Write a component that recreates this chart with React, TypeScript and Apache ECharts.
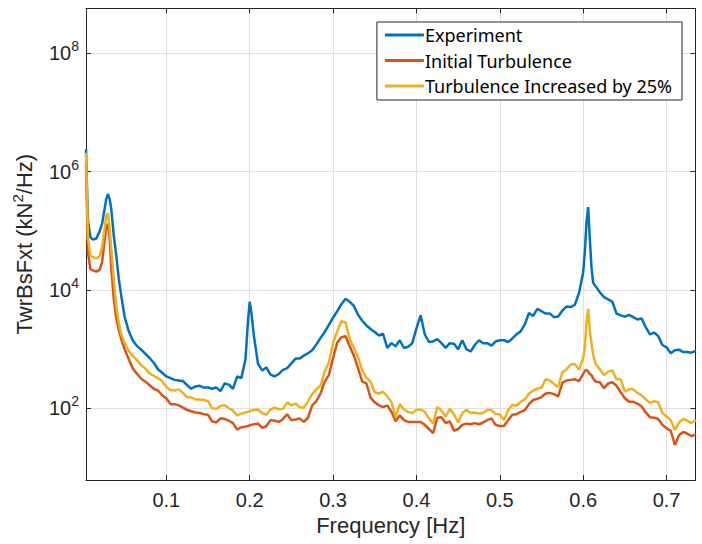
import React, { useEffect, useRef } from "react";
import * as echarts from "echarts";

// Frequency [Hz] (shared x values)
const freqHz = [
  0.0037, 0.006, 0.009, 0.012, 0.016, 0.02, 0.023, 0.026, 0.028, 0.03, 0.032, 0.034, 0.037, 0.04, 0.043, 0.046, 0.05, 0.055, 0.06,
  0.065, 0.07, 0.075, 0.08, 0.085, 0.09, 0.095, 0.1, 0.105, 0.11, 0.115, 0.12, 0.125, 0.13, 0.135, 0.14, 0.145, 0.15, 0.155, 0.16, 0.165, 0.17, 0.175, 0.18, 0.185, 0.19, 0.195,
  0.198, 0.2, 0.202,
  0.205, 0.21, 0.215, 0.22, 0.225, 0.23, 0.235, 0.24, 0.245, 0.25,
  0.255, 0.26, 0.265, 0.27, 0.275, 0.28, 0.285, 0.29, 0.295, 0.3,
  0.305, 0.31, 0.315, 0.32, 0.325, 0.33, 0.335, 0.34, 0.345, 0.35,
  0.355, 0.36, 0.365, 0.37, 0.375, 0.38, 0.385, 0.39, 0.395, 0.4,
  0.405, 0.41, 0.415, 0.42, 0.425, 0.43, 0.435, 0.44, 0.445, 0.45,
  0.455, 0.46, 0.465, 0.47, 0.475, 0.48, 0.485, 0.49, 0.495, 0.5,
  0.505, 0.51, 0.515, 0.52, 0.525, 0.53, 0.535, 0.54, 0.545, 0.55,
  0.555, 0.56, 0.565, 0.57, 0.575, 0.58, 0.585, 0.59, 0.595, 0.6,
  0.602, 0.604, 0.606, 0.608, 0.61, 0.612,
  0.615, 0.62, 0.625, 0.63, 0.635, 0.64, 0.645, 0.65, 0.655, 0.66, 0.665, 0.67, 0.675, 0.68, 0.685, 0.69, 0.695, 0.7, 0.705, 0.71, 0.715, 0.72, 0.725, 0.73, 0.735,
];

// log10 of TwrBsFxt PSD (kN^2/Hz)
const experimentLog10 = [
  6.38, 5.17, 4.89, 4.85, 4.87, 4.99, 5.12, 5.37, 5.54, 5.62, 5.54, 5.37, 4.92, 4.58, 4.19, 3.9, 3.55, 3.3, 3.14,
  3.05, 2.99, 2.92, 2.85, 2.77, 2.66, 2.6, 2.54, 2.51, 2.48, 2.47, 2.46, 2.39, 2.33, 2.37, 2.38, 2.35, 2.35, 2.33, 2.35, 2.29, 2.42, 2.4, 2.33, 2.54, 2.51, 2.83,
  3.48, 3.8, 3.62,
  3.23, 2.75, 2.64, 2.69, 2.57, 2.54, 2.58, 2.65, 2.68, 2.76,
  2.84, 2.84, 2.89, 2.93, 2.98, 3.08, 3.19, 3.29, 3.41, 3.53,
  3.64, 3.76, 3.85, 3.8, 3.73, 3.58, 3.48, 3.4, 3.34, 3.29,
  3.23, 3.26, 3.02, 3.1, 3.05, 3.15, 3.02, 3.04, 3.1, 3.35,
  3.57, 3.25, 3.12, 3.13, 3.17, 3.1, 3.02, 3.1, 3.09, 3.0,
  3.15, 3.0, 2.96, 3.07, 3.15, 3.1, 3.1, 3.06, 3.13, 3.15,
  3.15, 3.12, 3.18, 3.25, 3.3, 3.42, 3.61, 3.56, 3.68, 3.64,
  3.6, 3.6, 3.54, 3.55, 3.65, 3.72, 3.71, 3.75, 3.95, 4.3,
  4.65, 5.15, 5.4, 4.85, 4.37, 4.12,
  4.06, 3.96, 3.88, 3.84, 3.8, 3.6, 3.57, 3.55, 3.58, 3.54, 3.5, 3.52, 3.37, 3.25, 3.28, 3.22, 3.07, 3.03, 2.93, 2.98, 2.99, 2.95, 2.95, 2.94, 2.97,
];

const initialTurbulenceLog10 = [
  6.12, 4.64, 4.35, 4.33, 4.31, 4.34, 4.47, 4.83, 5.05, 5.12, 4.88, 4.38, 3.85, 3.52, 3.33, 3.17, 3.0, 2.83, 2.67,
  2.58, 2.5, 2.45, 2.39, 2.33, 2.3, 2.22, 2.17, 2.07, 2.07, 2.05, 2.01, 1.97, 1.95, 1.93, 1.92, 1.9, 1.89, 1.78, 1.76, 1.83, 1.82, 1.79, 1.75, 1.64, 1.68, 1.69,
  1.7, 1.71, 1.72,
  1.73, 1.74, 1.67, 1.7, 1.8, 1.79, 1.77, 1.82, 1.9, 1.8,
  1.81, 1.83, 1.77, 1.84, 2.05, 2.12, 2.25, 2.45, 2.56, 2.85,
  3.11, 3.2, 3.22, 3.05, 2.89, 2.68, 2.45, 2.42, 2.18, 2.1,
  2.05, 2.02, 2.05, 1.94, 1.78, 1.88, 1.8, 1.77, 1.77, 1.77,
  1.77, 1.72, 1.65, 1.58, 1.84, 1.85, 1.75, 1.78, 1.62, 1.65,
  1.72, 1.74, 1.73, 1.75, 1.73, 1.76, 1.8, 1.83, 1.72, 1.7,
  1.7, 1.8, 1.89, 1.9, 1.94, 1.97, 2.07, 2.14, 2.16, 2.19,
  2.25, 2.26, 2.24, 2.2, 2.43, 2.47, 2.48, 2.49, 2.46, 2.58,
  2.63, 2.65, 2.62, 2.58, 2.56, 2.5,
  2.45, 2.44, 2.34, 2.42, 2.44, 2.38, 2.27, 2.17, 2.11, 2.11, 2.08, 2.03, 1.93, 1.85, 1.84, 1.82, 1.72, 1.66, 1.62, 1.38, 1.55, 1.6, 1.57, 1.53, 1.56,
];

const turbulencePlus25Log10 = [
  6.32, 4.89, 4.58, 4.56, 4.53, 4.57, 4.72, 5.04, 5.25, 5.3, 5.05, 4.7, 4.19, 3.72, 3.45, 3.25, 3.1, 2.97, 2.88,
  2.81, 2.73, 2.67, 2.59, 2.55, 2.51, 2.46, 2.36, 2.31, 2.3, 2.32, 2.26, 2.19, 2.18, 2.15, 2.15, 2.14, 2.12, 2.0, 1.99, 2.04, 2.05, 2.0, 1.96, 1.88, 1.91, 1.93,
  1.94, 1.95, 1.96,
  1.97, 1.98, 1.92, 1.89, 1.98, 2.01, 1.98, 1.99, 2.1, 2.05,
  2.08, 2.02, 2.01, 2.12, 2.24, 2.32, 2.38, 2.62, 2.78, 3.1,
  3.3, 3.47, 3.45, 3.17, 3.02, 2.86, 2.64, 2.52, 2.45, 2.27,
  2.25, 2.28, 2.2, 2.11, 1.85, 2.07, 1.98, 1.94, 1.92, 1.97,
  1.98, 1.94, 1.83, 1.74, 2.02, 1.96, 1.86, 1.99, 1.9, 1.76,
  1.92, 1.97, 1.92, 1.93, 1.91, 1.92, 1.97, 1.97, 1.9, 1.9,
  1.8, 1.97, 2.06, 2.04, 2.11, 2.15, 2.25, 2.3, 2.33, 2.35,
  2.49, 2.47, 2.41, 2.36, 2.61, 2.66, 2.74, 2.75, 2.65, 2.85,
  3.03, 3.45, 3.68, 3.3, 3.09, 2.9,
  2.75, 2.66, 2.56, 2.62, 2.64, 2.49, 2.49, 2.28, 2.32, 2.32, 2.26, 2.22, 2.15, 2.09, 2.12, 2.1, 1.92, 1.86, 1.8, 1.63, 1.76, 1.82, 1.79, 1.75, 1.8,
];

const seriesNames = ["Experiment", "Initial Turbulence", "Turbulence Increased by 25%"];
const seriesColors = ["#0072BD", "#D95319", "#EDB120"];
const xTickValues = [0.1, 0.2, 0.3, 0.4, 0.5, 0.6, 0.7];
const yTickExponents = [2, 4, 6, 8];

const AX = "#262626";
const GRIDC = "#dfdfdf";
const FONT = "'Liberation Sans', Arial, Helvetica, sans-serif";

export default function App() {
  const ref = useRef<HTMLDivElement>(null);

  useEffect(() => {
    if (!ref.current) return;
    const chart = echarts.init(ref.current, null, { renderer: "svg" });
    const toPairs = (vals: number[]) => freqHz.map((f, i) => [f, vals[i]]);
    const allVals = [experimentLog10, initialTurbulenceLog10, turbulencePlus25Log10];

    const xMin = 0.0037;
    const xMax = 0.7347;
    const yMin = 0.788;
    const yMax = 8.76;

    const option: any = {
      animation: false,
      backgroundColor: "#fff",
      grid: { left: 86, right: 6.5, top: 8.3, bottom: 64, containLabel: false },
      legend: {
        orient: "vertical",
        right: 20,
        top: 22,
        padding: [3, 10, 4, 8],
        itemGap: 5.5,
        itemWidth: 39,
        itemHeight: 3,
        icon: "rect",
        backgroundColor: "#fff",
        borderColor: AX,
        borderWidth: 1,
        borderRadius: 0,
        textStyle: {
          fontFamily: "'Noto Sans', sans-serif",
          fontSize: 18,
          color: "#000",
          lineHeight: 20,
          padding: [0, 0, 0, -4],
        },
        data: seriesNames,
      },
      xAxis: [
        {
          type: "value",
          min: xMin,
          max: xMax,
          position: "bottom",
          axisLine: { show: true, onZero: false, lineStyle: { color: AX, width: 1 } },
          axisTick: { show: true, inside: true, length: 5, customValues: xTickValues, lineStyle: { color: AX } },
          axisLabel: {
            customValues: xTickValues,
            margin: 10,
            fontSize: 20,
            fontFamily: FONT,
            color: AX,
            formatter: (v: number) => String(Math.round(v * 10) / 10),
          },
          splitLine: { show: true, lineStyle: { color: GRIDC, width: 1 } },
          name: "Frequency [Hz]",
          nameLocation: "middle",
          nameGap: 34,
          nameTextStyle: { fontSize: 22, fontFamily: FONT, color: AX },
        },
        {
          type: "value",
          min: xMin,
          max: xMax,
          position: "top",
          axisLine: { show: true, onZero: false, lineStyle: { color: AX, width: 1 } },
          axisTick: { show: true, inside: true, length: 5, customValues: xTickValues, lineStyle: { color: AX } },
          axisLabel: { show: false, customValues: xTickValues },
          splitLine: { show: false },
        },
      ],
      yAxis: [
        {
          type: "value",
          min: yMin,
          max: yMax,
          position: "left",
          axisLine: { show: true, onZero: false, lineStyle: { color: AX, width: 1 } },
          axisTick: { show: true, inside: true, length: 5, customValues: yTickExponents, lineStyle: { color: AX } },
          axisLabel: {
            customValues: yTickExponents,
            margin: 7,
            color: AX,
            formatter: (v: number) => `{b|10}{s|${Math.round(v)}}`,
            rich: {
              b: { fontSize: 20, fontFamily: FONT, color: AX, lineHeight: 20 },
              s: { fontSize: 14, fontFamily: FONT, color: AX, lineHeight: 14, padding: [0, 0, 14, 0] },
            },
          },
          splitLine: { show: true, lineStyle: { color: GRIDC, width: 1 } },
          name: "{a|TwrBsFxt (kN}{s|2}{a|/Hz)}",
          nameLocation: "middle",
          nameRotate: 90,
          nameGap: 47,
          nameTextStyle: {
            rich: {
              a: { fontSize: 22, fontFamily: FONT, color: AX, lineHeight: 22 },
              s: { fontSize: 15, fontFamily: FONT, color: AX, lineHeight: 15, padding: [0, 0, 13, 0] },
            },
          },
        },
        {
          type: "value",
          min: yMin,
          max: yMax,
          position: "right",
          axisLine: { show: true, onZero: false, lineStyle: { color: AX, width: 1 } },
          axisTick: { show: true, inside: true, length: 5, customValues: yTickExponents, lineStyle: { color: AX } },
          axisLabel: { show: false, customValues: yTickExponents },
          splitLine: { show: false },
        },
      ],
      series: seriesNames.map((name, k) => ({
        type: "line",
        name,
        xAxisIndex: 0,
        yAxisIndex: 0,
        data: toPairs(allVals[k]),
        showSymbol: false,
        symbol: "none",
        clip: true,
        z: 3 + k,
        lineStyle: { width: 2.5, color: seriesColors[k] },
        itemStyle: { color: seriesColors[k] },
      })),
    };

    chart.setOption(option);
    return () => chart.dispose();
  }, []);

  return (
    <div
      ref={ref}
      style={{ position: "absolute", left: 0, top: 0, width: 702, height: 544 }}
    />
  );
}
